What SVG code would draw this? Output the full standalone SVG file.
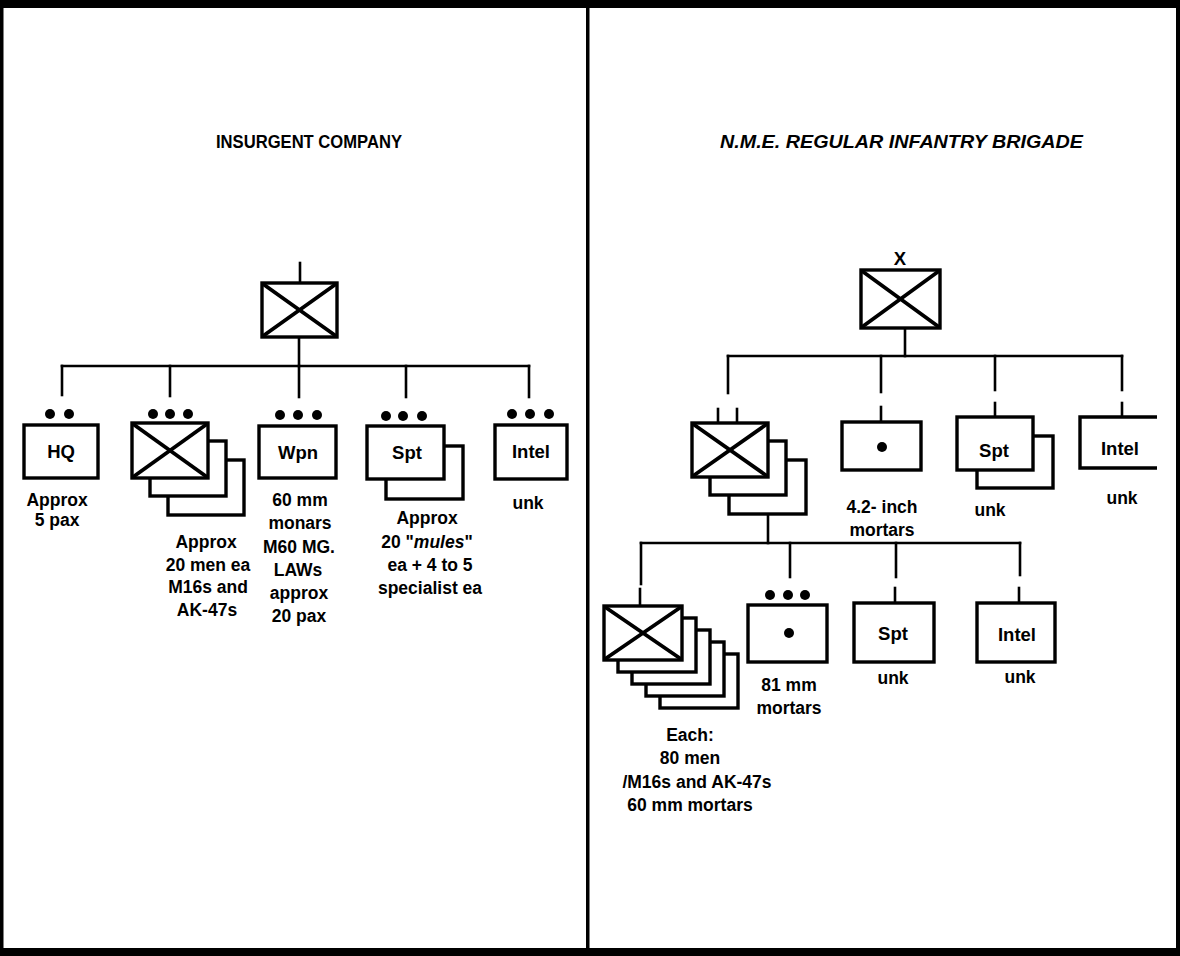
<svg xmlns="http://www.w3.org/2000/svg" width="1180" height="956" viewBox="0 0 1180 956">
<defs>
<style>
.ln{stroke:#000;stroke-width:2.6;fill:none;stroke-linecap:square}
.bx{stroke:#000;stroke-width:3.4;fill:#fff}
.xd{stroke:#000;stroke-width:3.8;stroke-linecap:round}
.dt{fill:#000}
.t{font-family:"Liberation Sans",Arial,sans-serif;font-weight:bold;font-size:17.5px;text-anchor:middle;fill:#000}
.lb{font-size:18.5px}
.ttl{font-family:"Liberation Sans",Arial,sans-serif;font-weight:bold;font-size:19px;fill:#000}
</style>
</defs>
<rect width="1180" height="956" fill="#fff"/>
<g id="frame" fill="#000">
<rect x="0" y="0" width="1180" height="8"/>
<rect x="0" y="0" width="3.5" height="956"/>
<rect x="586" y="0" width="3.5" height="956"/>
<rect x="1176" y="0" width="4" height="956"/>
<rect x="0" y="948" width="1180" height="8"/>
</g>

<g id="titles">
<text class="ttl" x="216" y="148" textLength="186" lengthAdjust="spacingAndGlyphs">INSURGENT COMPANY</text>
<text class="ttl" x="720" y="148" font-style="italic" textLength="363" lengthAdjust="spacingAndGlyphs">N.M.E. REGULAR INFANTRY BRIGADE</text>
</g>

<g id="connectors">
<!-- left -->
<line class="ln" x1="300" y1="263" x2="300" y2="283"/>
<line class="ln" x1="299" y1="338" x2="299" y2="366"/>
<line class="ln" x1="62" y1="366" x2="529" y2="366"/>
<line class="ln" x1="62" y1="366" x2="62" y2="395"/>
<line class="ln" x1="170" y1="366" x2="170" y2="396"/>
<line class="ln" x1="299" y1="366" x2="299" y2="397"/>
<line class="ln" x1="406" y1="366" x2="406" y2="397"/>
<line class="ln" x1="529" y1="366" x2="529" y2="397"/>
<!-- right upper -->
<line class="ln" x1="905" y1="328" x2="905" y2="356"/>
<line class="ln" x1="728" y1="356" x2="1122" y2="356"/>
<line class="ln" x1="728" y1="356" x2="728" y2="393"/>
<line class="ln" x1="881" y1="356" x2="881" y2="392"/>
<line class="ln" x1="995" y1="356" x2="995" y2="390"/>
<line class="ln" x1="1122" y1="356" x2="1122" y2="390"/>
<line class="ln" x1="881" y1="407" x2="881" y2="422"/>
<line class="ln" x1="995" y1="403" x2="995" y2="417"/>
<line class="ln" x1="1122" y1="403" x2="1122" y2="417"/>
<!-- right lower -->
<line class="ln" x1="768" y1="514" x2="768" y2="543"/>
<line class="ln" x1="641" y1="543" x2="1020" y2="543"/>
<line class="ln" x1="641" y1="543" x2="641" y2="584"/>
<line class="ln" x1="790" y1="543" x2="790" y2="577"/>
<line class="ln" x1="896" y1="543" x2="896" y2="577"/>
<line class="ln" x1="1020" y1="543" x2="1020" y2="575"/>
<line class="ln" x1="640" y1="589" x2="640" y2="606"/>
<line class="ln" x1="895" y1="588" x2="895" y2="603"/>
<line class="ln" x1="1019" y1="588" x2="1019" y2="603"/>
</g>

<!-- LEFT PANEL -->
<g id="insurgent-company">
<rect class="bx" x="262" y="283" width="75" height="54"/>
<line class="xd" x1="263" y1="284" x2="336" y2="336"/>
<line class="xd" x1="336" y1="284" x2="263" y2="336"/>
</g>

<g id="hq">
<circle class="dt" cx="50" cy="414" r="5"/>
<circle class="dt" cx="69" cy="414" r="5"/>
<rect class="bx" x="24" y="425" width="74" height="53"/>
<text class="t lb" x="61" y="458">HQ</text>
<text class="t" x="57" y="506">Approx</text>
<text class="t" x="57" y="526">5 pax</text>
</g>

<g id="rifle-platoons">
<circle class="dt" cx="153" cy="414" r="5"/>
<circle class="dt" cx="170" cy="414" r="5"/>
<circle class="dt" cx="188" cy="414" r="5"/>
<rect class="bx" x="168" y="460" width="76" height="55"/>
<rect class="bx" x="150" y="441" width="76" height="55"/>
<rect class="bx" x="132" y="423" width="76" height="55"/>
<line class="xd" x1="133" y1="424" x2="207" y2="477"/>
<line class="xd" x1="207" y1="424" x2="133" y2="477"/>
<text class="t" x="206" y="548">Approx</text>
<text class="t" x="208" y="571">20 men ea</text>
<text class="t" x="208" y="593">M16s and</text>
<text class="t" x="207" y="616">AK-47s</text>
</g>

<g id="weapons">
<circle class="dt" cx="280" cy="415" r="5"/>
<circle class="dt" cx="298" cy="415" r="5"/>
<circle class="dt" cx="317" cy="415" r="5"/>
<rect class="bx" x="259" y="426" width="77" height="52"/>
<text class="t lb" x="298" y="459">Wpn</text>
<text class="t" x="300" y="506">60 mm</text>
<text class="t" x="300" y="529">monars</text>
<text class="t" x="299" y="553">M60 MG.</text>
<text class="t" x="298" y="576">LAWs</text>
<text class="t" x="299" y="599">approx</text>
<text class="t" x="299" y="622">20 pax</text>
</g>

<g id="support">
<circle class="dt" cx="386" cy="416" r="5"/>
<circle class="dt" cx="403" cy="416" r="5"/>
<circle class="dt" cx="422" cy="416" r="5"/>
<rect class="bx" x="386" y="446" width="77" height="53"/>
<rect class="bx" x="367" y="426" width="77" height="53"/>
<text class="t lb" x="407" y="459">Spt</text>
<text class="t" x="427" y="524">Approx</text>
<text class="t" x="427" y="548">20 "<tspan font-style="italic">mules</tspan>"</text>
<text class="t" x="430" y="571">ea + 4 to 5</text>
<text class="t" x="430" y="594">specialist ea</text>
</g>

<g id="intel-left">
<circle class="dt" cx="512" cy="414" r="5"/>
<circle class="dt" cx="530" cy="414" r="5"/>
<circle class="dt" cx="549" cy="414" r="5"/>
<rect class="bx" x="495" y="425" width="72" height="54"/>
<text class="t lb" x="531" y="458">Intel</text>
<text class="t" x="528" y="509">unk</text>
</g>

<!-- RIGHT PANEL -->
<g id="brigade">
<text class="t lb" x="900" y="265">X</text>
<rect class="bx" x="861" y="270" width="79" height="58"/>
<line class="xd" x1="862" y1="271" x2="939" y2="327"/>
<line class="xd" x1="939" y1="271" x2="862" y2="327"/>
</g>

<g id="battalions">
<line class="ln" x1="718" y1="409" x2="718" y2="423"/>
<line class="ln" x1="737" y1="409" x2="737" y2="423"/>
<rect class="bx" x="729" y="460" width="77" height="54"/>
<rect class="bx" x="710" y="441" width="76" height="54"/>
<rect class="bx" x="692" y="423" width="76" height="54"/>
<line class="xd" x1="693" y1="424" x2="767" y2="476"/>
<line class="xd" x1="767" y1="424" x2="693" y2="476"/>
</g>

<g id="mortar-42">
<rect class="bx" x="842" y="422" width="79" height="48"/>
<circle class="dt" cx="882" cy="447" r="5"/>
<text class="t" x="882" y="513">4.2- inch</text>
<text class="t" x="882" y="536">mortars</text>
</g>

<g id="support-right">
<rect class="bx" x="977" y="436" width="76" height="52"/>
<rect class="bx" x="957" y="417" width="76" height="53"/>
<text class="t lb" x="994" y="457">Spt</text>
<text class="t" x="990" y="516">unk</text>
</g>

<g id="intel-right">
<path class="bx" d="M1157,417 H1080 V468 H1157"/>
<text class="t lb" x="1120" y="455">Intel</text>
<text class="t" x="1122" y="504">unk</text>
</g>

<g id="companies">
<rect class="bx" x="660" y="654" width="78" height="54"/>
<rect class="bx" x="646" y="642" width="78" height="54"/>
<rect class="bx" x="632" y="630" width="78" height="54"/>
<rect class="bx" x="618" y="618" width="78" height="54"/>
<rect class="bx" x="604" y="606" width="78" height="54"/>
<line class="xd" x1="605" y1="607" x2="681" y2="659"/>
<line class="xd" x1="681" y1="607" x2="605" y2="659"/>
<text class="t" x="690" y="741">Each:</text>
<text class="t" x="690" y="764">80 men</text>
<text class="t" x="697" y="788">/M16s and AK-47s</text>
<text class="t" x="690" y="811">60 mm mortars</text>
</g>

<g id="mortar-81">
<circle class="dt" cx="770" cy="595" r="5"/>
<circle class="dt" cx="788" cy="595" r="5"/>
<circle class="dt" cx="805" cy="595" r="5"/>
<rect class="bx" x="748" y="605" width="79" height="57"/>
<circle class="dt" cx="789" cy="633" r="5"/>
<text class="t" x="789" y="691">81 mm</text>
<text class="t" x="789" y="714">mortars</text>
</g>

<g id="support-lower">
<rect class="bx" x="854" y="603" width="80" height="59"/>
<text class="t lb" x="893" y="640">Spt</text>
<text class="t" x="893" y="684">unk</text>
</g>

<g id="intel-lower">
<rect class="bx" x="977" y="603" width="78" height="59"/>
<text class="t lb" x="1017" y="641">Intel</text>
<text class="t" x="1020" y="683">unk</text>
</g>
</svg>
